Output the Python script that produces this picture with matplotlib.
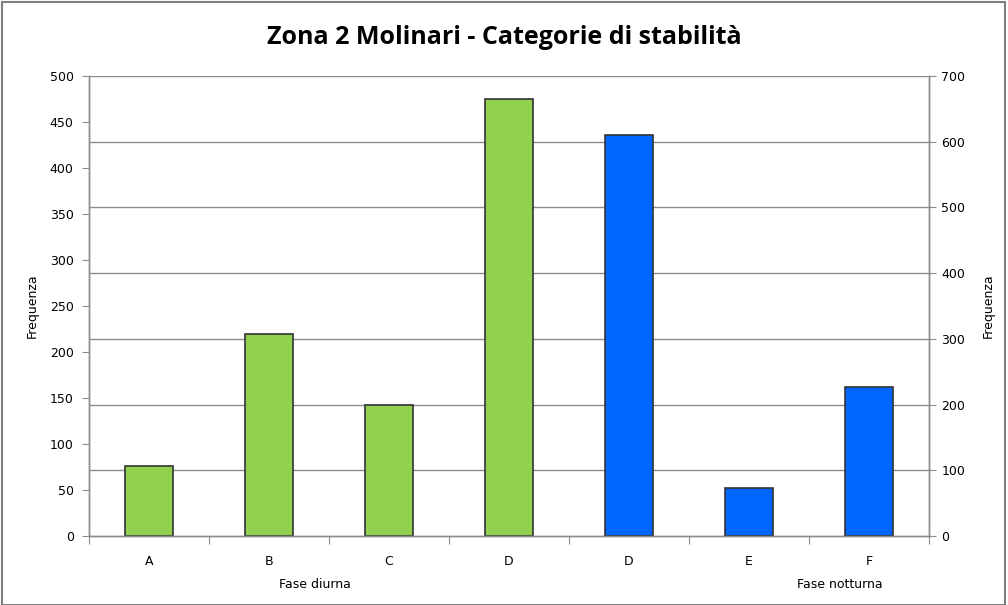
import numpy as np
import matplotlib.pyplot as plt
from matplotlib.patches import Rectangle

categories = ['A', 'B', 'C', 'D', 'D', 'E', 'F']
day_values = [76, 220, 142, 475]      # Fase diurna, asse sinistro
night_values = [610, 73, 227]         # Fase notturna, asse destro

GREEN = '#92d050'
BLUE = '#0066ff'
EDGE = '#333333'
GRID = '#8c8c8c'

plt.rcParams['font.family'] = ['DejaVu Sans']

fig = plt.figure(figsize=(10.08, 6.05), dpi=100)
ax1 = fig.add_axes([89/1008, 69/605, 840/1008, 460/605])
ax2 = ax1.twinx()

x = np.arange(len(categories))
day_x = x[:len(day_values)]
night_x = x[len(day_values):]

# gridlines follow the right axis ticks, drawn behind the bars
for v in range(100, 701, 100):
    ax1.axhline(v * 500 / 700, color=GRID, lw=1, zorder=0)

ax1.bar(day_x, day_values, width=0.4, color=GREEN, edgecolor=EDGE, lw=1.2, zorder=2)
ax2.bar(night_x, night_values, width=0.4, color=BLUE, edgecolor=EDGE, lw=1.2, zorder=2)

ax1.set_xlim(-0.5, len(categories) - 0.5)
ax1.set_ylim(0, 500)
ax2.set_ylim(0, 700)
ax1.set_yticks(np.arange(0, 501, 50))
ax2.set_yticks(np.arange(0, 701, 100))

ax1.set_xticks(np.arange(-0.5, len(categories), 1))
ax1.set_xticklabels([])
ax1.set_xticks(x, minor=True)
ax1.set_xticklabels(categories, minor=True)
ax1.tick_params(axis='x', which='major', direction='out', length=6, color=GRID)
ax1.tick_params(axis='x', which='minor', length=0, pad=14, labelsize=9)
ax1.tick_params(axis='y', direction='out', length=5, color=GRID, labelsize=9, pad=6)
ax2.tick_params(axis='y', direction='out', length=5, color=GRID, labelsize=9, pad=4)

for ax in (ax1, ax2):
    ax.spines['top'].set_visible(False)
    for s in ('left', 'right', 'bottom'):
        ax.spines[s].set_color(GRID)
        ax.spines[s].set_linewidth(1)

ax1.set_ylabel('Frequenza', fontsize=9, labelpad=8)
ax2.set_ylabel('Frequenza', fontsize=9, labelpad=12)

fig.text(315/1008, 1 - 584/605, 'Fase diurna', ha='center', va='center', fontsize=9)
fig.text(840/1008, 1 - 584/605, 'Fase notturna', ha='center', va='center', fontsize=9)

fig.text(0.5, 1 - 38/605, 'Zona 2 Molinari - Categorie di stabilità',
         ha='center', va='center', fontsize=18, fontweight='bold', family=['Open Sans', 'DejaVu Sans'])

fig.patches.append(Rectangle((2/1008, 0), 1003/1008, 1 - 2/605, transform=fig.transFigure,
                             fill=False, edgecolor='#7f7f7f', lw=1.5))

fig.savefig('out.png', dpi=100)
